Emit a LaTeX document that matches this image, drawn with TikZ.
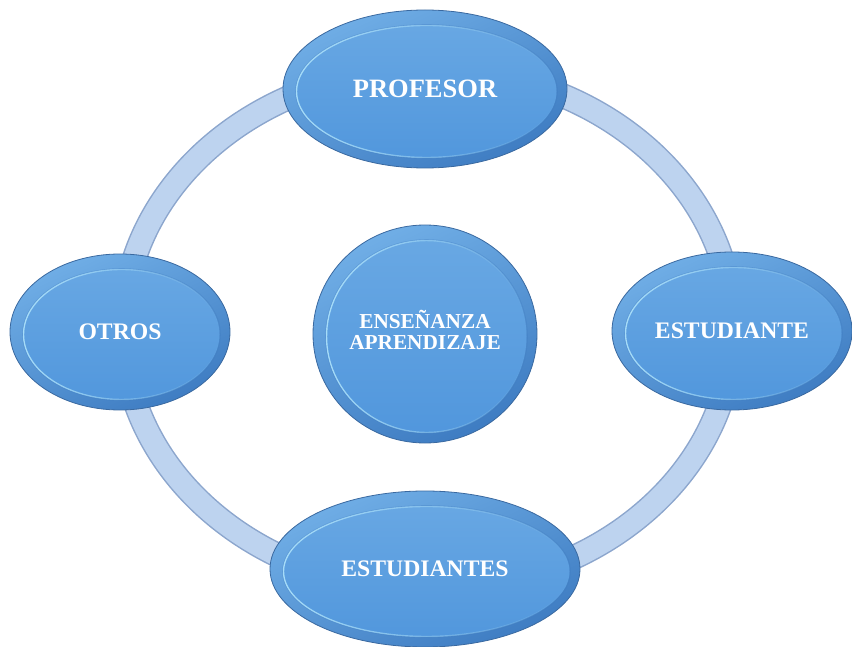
\documentclass[tikz,border=0pt]{standalone}
\usepackage{fontspec}
\setmainfont{Liberation Serif}
\usetikzlibrary{shapes.geometric,fadings}
\definecolor{ringfill}{RGB}{189,211,239}
\definecolor{ringedge}{RGB}{140,166,205}
\definecolor{bubedge}{RGB}{58,105,160}
\definecolor{bublight}{RGB}{112,174,230}
\definecolor{bubdark}{RGB}{62,124,194}
\definecolor{innertop}{RGB}{106,169,228}
\definecolor{innerbot}{RGB}{80,150,220}
\definecolor{hilite}{RGB}{175,228,252}
\begin{document}
\begin{tikzpicture}[x=1pt,y=-1pt,
  bubble/.style n args={2}{ellipse, draw=bubedge, line width=0.8pt,
    minimum width=2*#1, minimum height=2*#2, inner sep=0pt,
    top color=bublight, bottom color=bubdark, shading angle=25,
    text=white, align=center,
    path picture={
      \shade[top color=innertop,bottom color=innerbot]
        ([xshift=1.5pt,yshift=-2.5pt]path picture bounding box.center)
        ellipse [x radius=#1-12pt, y radius=#2-13pt];
      \draw[hilite, line width=1.4pt, path fading=east, draw opacity=0.9]
        ([xshift=1.5pt,yshift=-2.5pt]path picture bounding box.center)
        ellipse [x radius=#1-12pt, y radius=#2-13pt];
      \draw[bubdark, line width=0.6pt, draw opacity=0.35]
        ([xshift=1.5pt,yshift=-2.5pt]path picture bounding box.center)
        ellipse [x radius=#1-11pt, y radius=#2-12pt];
    }},
  lbl/.style={font=\bfseries\fontsize{#1}{#1}\selectfont}
]
\useasboundingbox (0,0) rectangle (852,647);
% ring
\draw[ringedge, line width=25pt] (428,329) ellipse [x radius=305pt, y radius=260pt];
\draw[ringfill, line width=22pt] (428,329) ellipse [x radius=305pt, y radius=260pt];
% nodes
\node[bubble={142pt}{79pt}, lbl=26.5] (prof) at (425,89) {PROFESOR};
\node[bubble={110pt}{78pt}, lbl=23.7] (otros) at (120,332) {OTROS};
\node[bubble={120pt}{79pt}, lbl=23.7] (est) at (732,331) {ESTUDIANTE};
\node[bubble={155pt}{78pt}, lbl=23.7] (ests) at (425,569) {ESTUDIANTES};
\node[bubble={112pt}{109pt}, lbl=21.3, text depth=8pt] (ens) at (425,334) {ENSEÑANZA\\[-0.6pt]APRENDIZAJE};
\end{tikzpicture}
\end{document}
